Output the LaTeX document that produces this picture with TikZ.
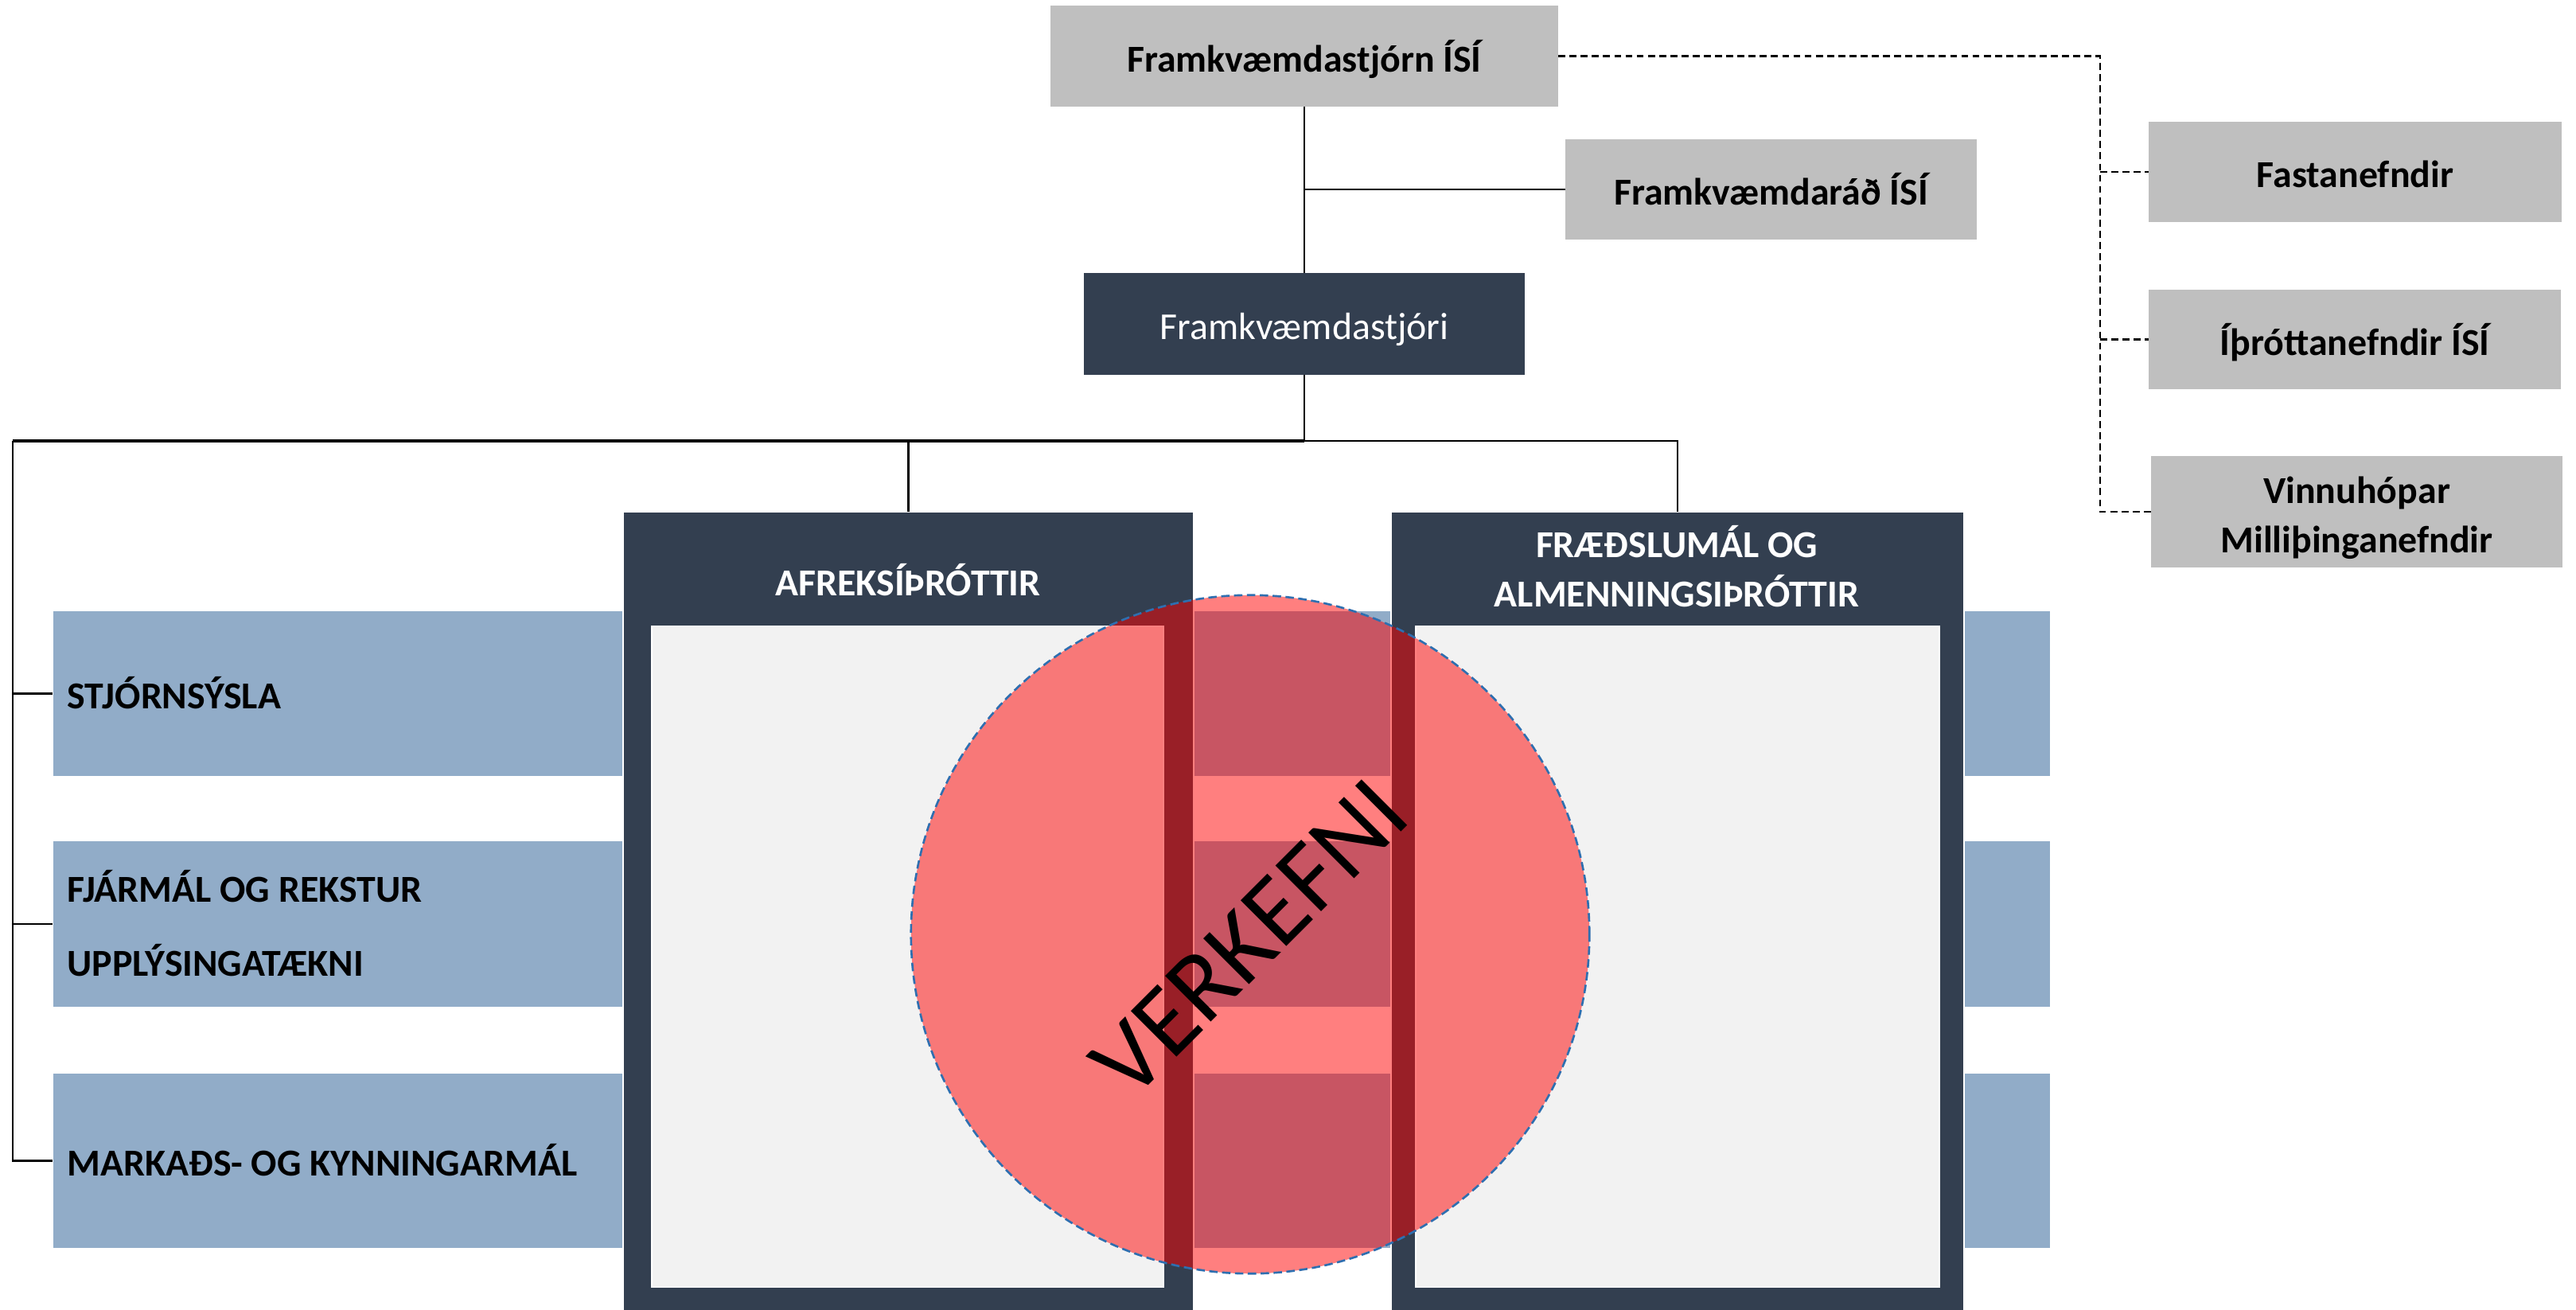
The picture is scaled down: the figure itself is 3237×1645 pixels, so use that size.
\documentclass[tikz,border=0pt]{standalone}
\usepackage{fontspec}
\setmainfont{Carlito}
\usetikzlibrary{fit}
\definecolor{cGray}{HTML}{BFBFBF}
\definecolor{cDark}{HTML}{333F50}
\definecolor{cBlue}{HTML}{91ACC8}
\definecolor{cLight}{HTML}{F2F2F2}
\definecolor{cCircB}{HTML}{2E6FB0}
\tikzset{
  boxtext/.style={inner sep=0pt, outer sep=0pt, align=center,
    text height=14.5pt, text depth=3.4pt},
  graybox/.style={boxtext, fill=cGray, text=black,
    font=\fontsize{13.6}{17.8}\selectfont\bfseries},
  darkbox/.style={boxtext, fill=cDark, text=white,
    font=\fontsize{13.6}{17.8}\selectfont},
  bluebox/.style={fill=cBlue, draw=white, line width=0.5pt, inner sep=0pt, outer sep=0pt},
  panelbox/.style={fill=cDark, draw=white, line width=0.5pt, inner sep=0pt, outer sep=0pt},
  panelinner/.style={fill=cLight, draw=white, line width=0.4pt, inner sep=0pt, outer sep=0pt},
  sidelabel/.style={anchor=base west, inner sep=0pt, text=black,
    font=\fontsize{13.6}{17.8}\selectfont\bfseries},
  headlabel/.style={anchor=base, inner sep=0pt, text=white,
    font=\fontsize{13.6}{17.8}\selectfont\bfseries},
  graylabel/.style={anchor=base, inner sep=0pt, text=black,
    font=\fontsize{13.6}{17.8}\selectfont\bfseries},
  conn/.style={draw=black, line width=0.6pt},
  busline/.style={draw=black, line width=1.2pt},
  dashline/.style={draw=black, line width=0.6pt, dash pattern=on 2.5pt off 1.5pt},
}
\begin{document}
\begin{tikzpicture}[x=0.01cm, y=-0.01cm]
\clip (0,0) rectangle (3237,1645);
\fill[white] (0,0) rectangle (3237,1645);

% blue rows (spanning under the panels)
\node[bluebox, fit={(66,767) (2577,976)}] (b1) {};
\node[bluebox, fit={(66,1056) (2577,1266)}] (b2) {};
\node[bluebox, fit={(66,1348) (2577,1569)}] (b3) {};

% panels
\node[panelbox, fit={(783,643) (1500,1700)}] (afr) {};
\node[panelinner, fit={(819,787) (1462,1617)}] (afrin) {};
\node[panelbox, fit={(1748,643) (2468,1700)}] (fra) {};
\node[panelinner, fit={(1779,787) (2437,1617)}] (frain) {};

\node[headlabel] (afrh) at (1141,748) {AFREKSÍÞRÓTTIR};
\node[headlabel] (frah1) at (2107,700) {FRÆÐSLUMÁL OG};
\node[headlabel] (frah2) at (2107,762.5) {ALMENNINGSIÞRÓTTIR};

% side labels
\node[sidelabel] (l1) at (84,890) {STJÓRNSÝSLA};
\node[sidelabel] (l2a) at (84,1133) {FJÁRMÁL OG REKSTUR};
\node[sidelabel] (l2b) at (84,1226.5) {UPPLÝSINGATÆKNI};
\node[sidelabel] (l3) at (84,1477.5) {MARKAÐS- OG KYNNINGARMÁL};

% top boxes
\node[graybox, minimum width=6.38cm, minimum height=1.27cm] (top) at (1639,70.5) {Framkvæmdastjórn ÍSÍ};
\node[graybox, minimum width=5.17cm, minimum height=1.26cm] (frad) at (2225.5,238) {Framkvæmdaráð ÍSÍ};
\node[darkbox, minimum width=5.54cm, minimum height=1.28cm] (fstj) at (1639,407) {Framkvæmdastjóri};
\node[graybox, minimum width=5.19cm, minimum height=1.26cm] (fasta) at (2959.5,216) {Fastanefndir};
\node[graybox, minimum width=5.18cm, minimum height=1.25cm] (ithr) at (2959,426.5) {Íþróttanefndir ÍSÍ};
\node[graybox, minimum width=5.17cm, minimum height=1.40cm] (vinn) at (2961.5,643) {};
\node[graylabel] (vinn1) at (2961.5,632) {Vinnuhópar};
\node[graylabel] (vinn2) at (2961.5,694) {Milliþinganefndir};

% solid connectors
\coordinate (bus) at (1639,554);
\coordinate (busL) at (16,554);
\draw[conn] (top.south) -- (fstj.north);
\draw[conn] (top.south |- frad.west) -- (frad.west);
\draw[conn] (fstj.south) -- (bus);
\draw[busline] (bus) -- (busL);
\draw[conn] (bus) -| (fra.north);
\draw[conn] (bus -| afr.north) -- (afr.north);
\draw[conn] (busL) |- (b3.west);
\draw[conn] (busL |- b1.west) -- (b1.west);
\draw[conn] (busL |- b2.west) -- (b2.west);

% dashed connectors
\coordinate (dtop) at (2639,70.5);
\coordinate (dbot) at (2639,643);
\draw[dashline] (top.east) -- (dtop) -- (dbot) -- (vinn.west);
\draw[dashline] (dtop |- fasta.west) -- (fasta.west);
\draw[dashline] (dtop |- ithr.west) -- (ithr.west);

% overlay circle
\node[circle, minimum size=8.52cm, inner sep=0pt, fill=red, fill opacity=0.5,
  draw=cCircB, draw opacity=1, line width=0.75pt, dash pattern=on 3pt off 1.6pt] (circ) at (1571,1174) {};
\node[rotate=45, inner sep=0pt, text=black, font=\fontsize{36}{40}\selectfont] (verk) at (1570,1179) {VERKEFNI};
\end{tikzpicture}
\end{document}
